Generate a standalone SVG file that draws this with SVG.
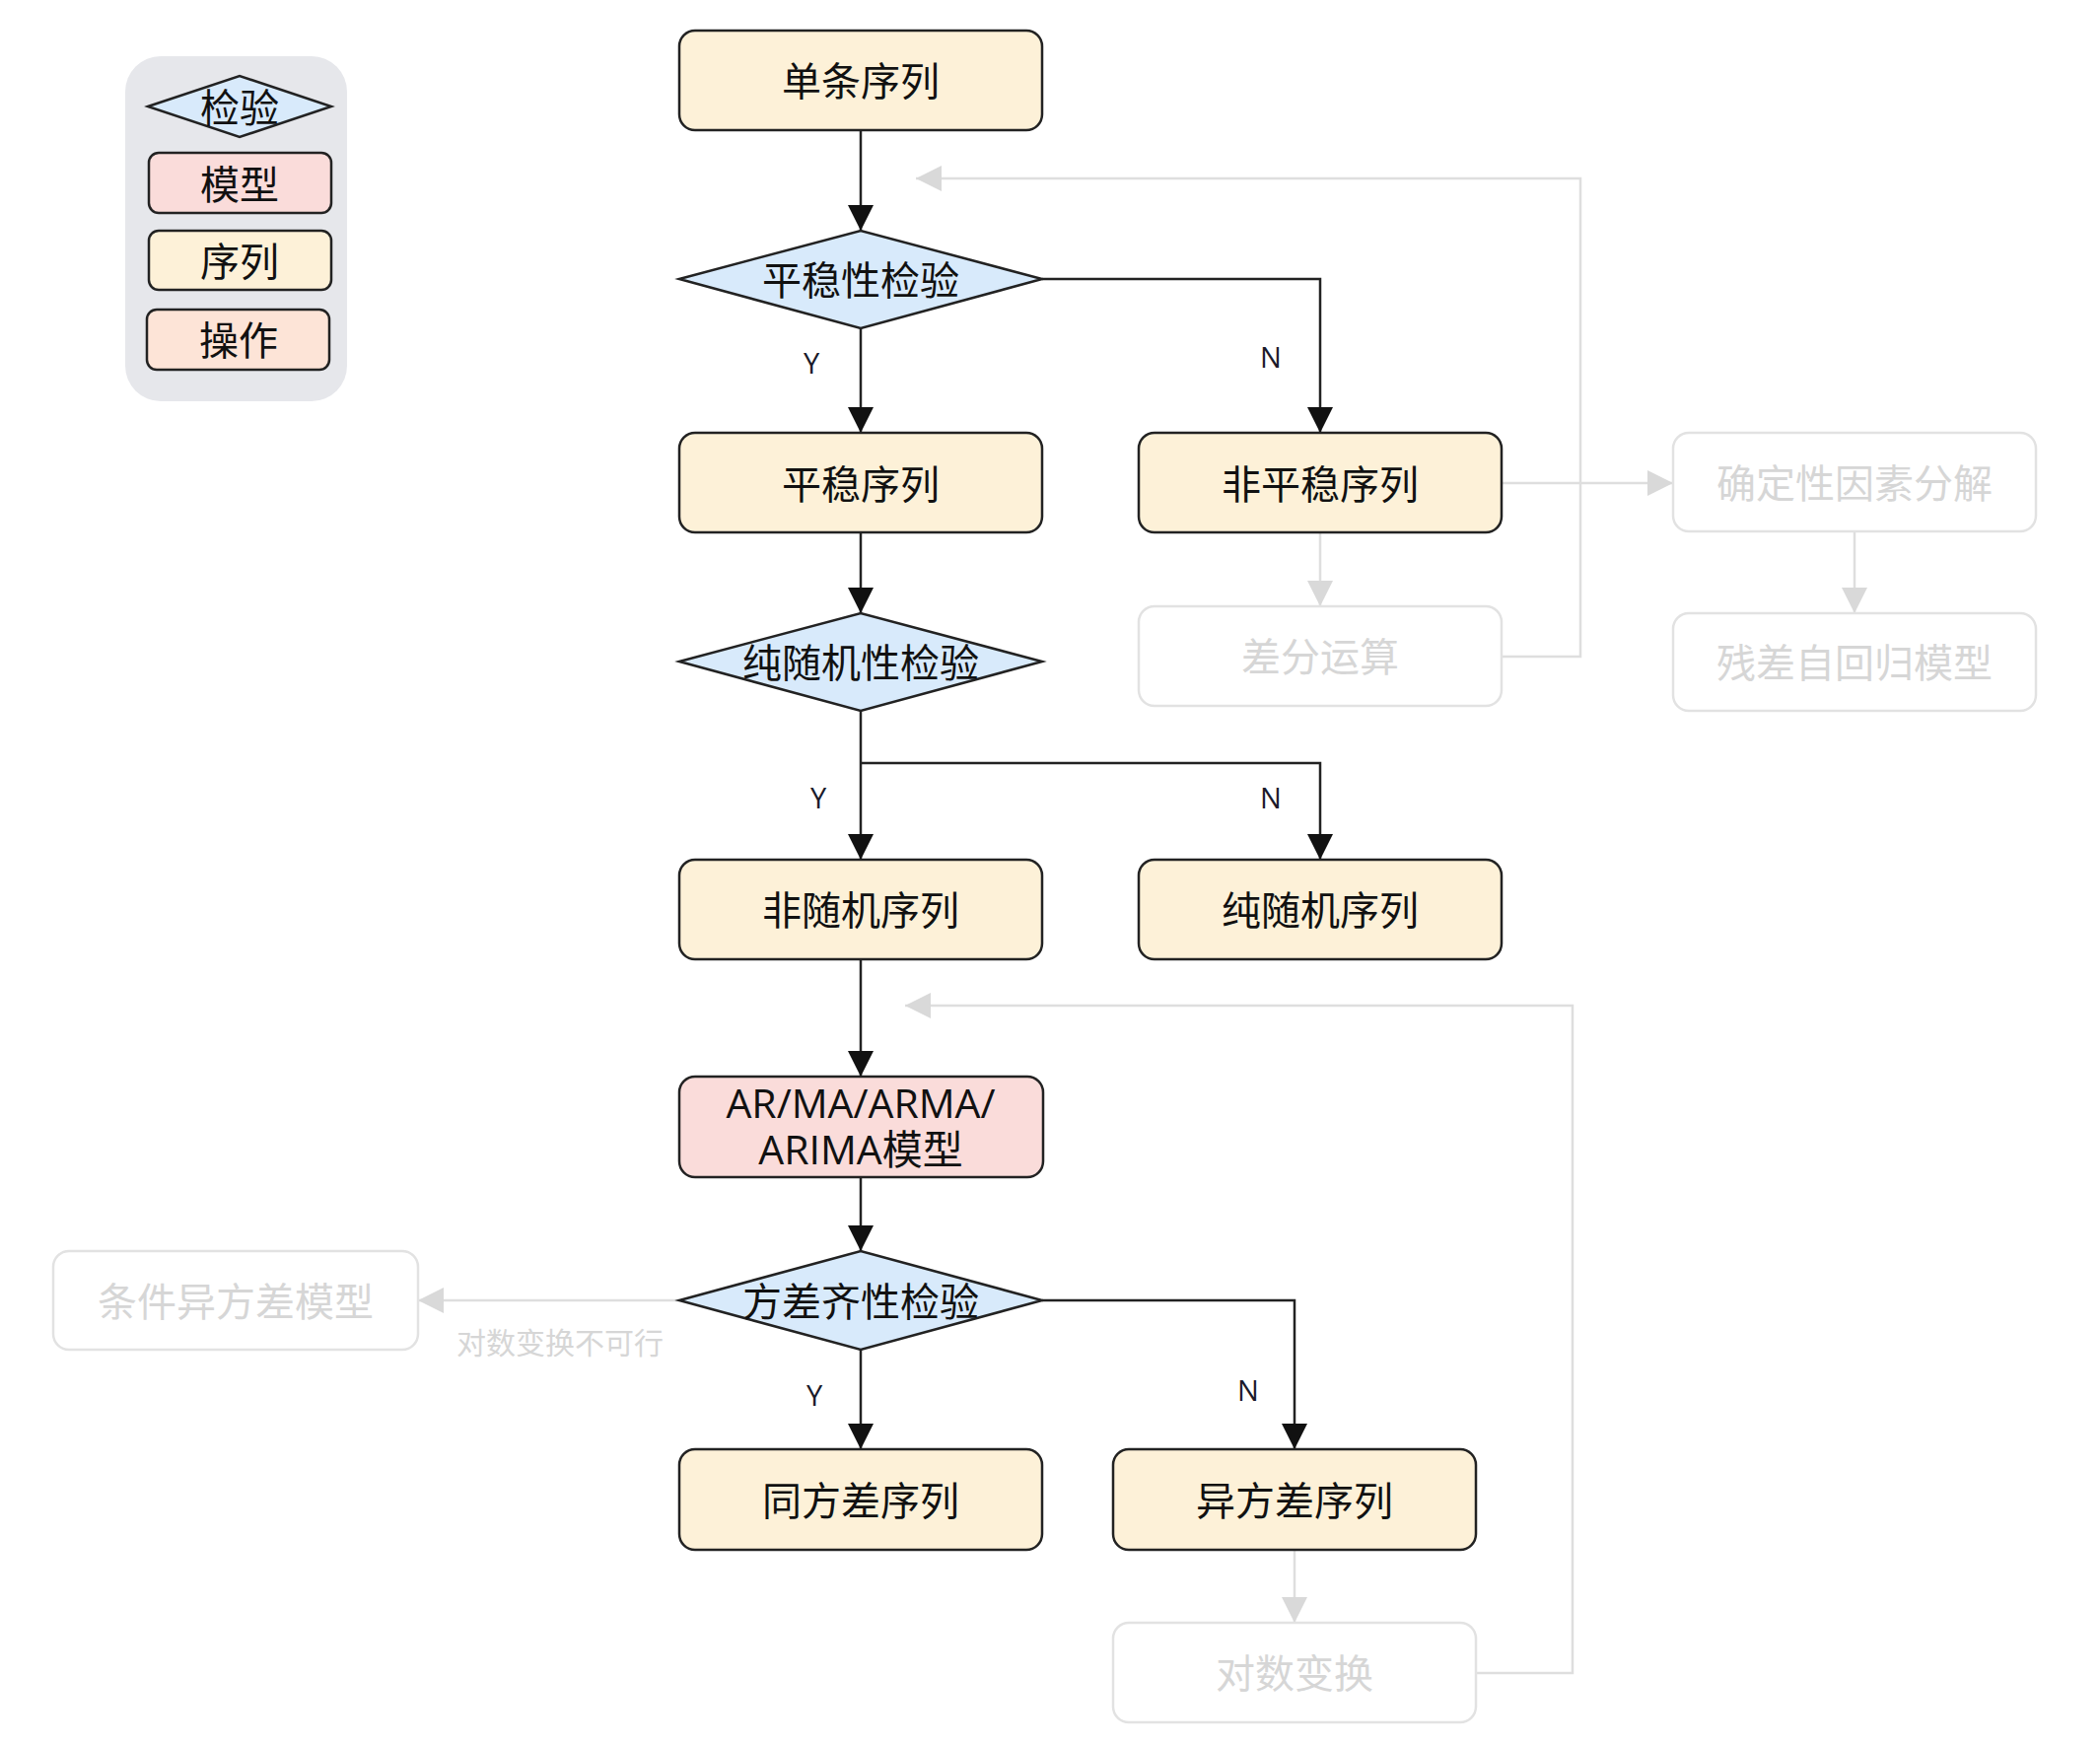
<svg xmlns="http://www.w3.org/2000/svg" width="2130" height="1770" viewBox="0 0 2130 1770">
<defs>
<marker id="ab" markerUnits="userSpaceOnUse" markerWidth="26" markerHeight="28" refX="26" refY="13" orient="auto"><path d="M0,0 L26,13 L0,26 Z" fill="#111"/></marker>
<marker id="ag" markerUnits="userSpaceOnUse" markerWidth="26" markerHeight="28" refX="26" refY="13" orient="auto"><path d="M0,0 L26,13 L0,26 Z" fill="#d9d9d9"/></marker>
</defs>
<style>
text{font-family:"Open Sans","Noto Sans CJK SC",sans-serif;text-anchor:middle;dominant-baseline:central}
.t{font-size:40px;fill:#111}
.tg{font-size:40px;fill:#d6d6d6}
.seq{fill:#fdf1d8;stroke:#222;stroke-width:2.5}
.mod{fill:#fadcda;stroke:#222;stroke-width:2.5}
.op{fill:#fde4d7;stroke:#222;stroke-width:2.5}
.dia{fill:#d8eafb;stroke:#222;stroke-width:2.5}
.gb{fill:#fff;stroke:#e2e2e2;stroke-width:2.5}
.cb{fill:none;stroke:#222;stroke-width:2.5}
.cg{fill:none;stroke:#dedede;stroke-width:2.5}
.yn{font-size:29px;fill:#1a1a2a}
</style>
<g id="legend">
<rect x="127" y="57" width="225" height="350" rx="36" fill="#e6e7eb"/>
<polygon class="dia" points="150,108 243,77 336,108 243,139"/>
<text class="t" x="243" y="108">检验</text>
<rect class="mod" x="151" y="155" width="185" height="61" rx="10"/>
<text class="t" x="243" y="186">模型</text>
<rect class="seq" x="151" y="234" width="185" height="60" rx="10"/>
<text class="t" x="243" y="264">序列</text>
<rect class="op" x="149" y="314" width="185" height="61" rx="10"/>
<text class="t" x="242" y="344">操作</text>
</g>
<g id="connectors">
<path class="cb" d="M873,132 V234" marker-end="url(#ab)"/>
<path class="cb" d="M873,333 V439" marker-end="url(#ab)"/>
<path class="cb" d="M1057,283 H1339 V439" marker-end="url(#ab)"/>
<path class="cb" d="M873,540 V622" marker-end="url(#ab)"/>
<path class="cb" d="M873,721 V872" marker-end="url(#ab)"/>
<path class="cb" d="M873,774 H1339 V872" marker-end="url(#ab)"/>
<path class="cb" d="M873,973 V1092" marker-end="url(#ab)"/>
<path class="cb" d="M873,1194 V1269" marker-end="url(#ab)"/>
<path class="cb" d="M873,1369 V1470" marker-end="url(#ab)"/>
<path class="cb" d="M1057,1319 H1313 V1470" marker-end="url(#ab)"/>
<path class="cg" d="M1523,490 H1697" marker-end="url(#ag)"/>
<path class="cg" d="M1523,666 H1603 V181 H929" marker-end="url(#ag)"/>
<path class="cg" d="M1339,540 V615" marker-end="url(#ag)"/>
<path class="cg" d="M1881,539 V622" marker-end="url(#ag)"/>
<path class="cg" d="M1313,1572 V1646" marker-end="url(#ag)"/>
<path class="cg" d="M1497,1697 H1595 V1020 H918" marker-end="url(#ag)"/>
<path class="cg" d="M689,1319 H424" marker-end="url(#ag)"/>
<text class="yn" x="823" y="367">Y</text>
<text class="yn" x="1289" y="361">N</text>
<text class="yn" x="830" y="808">Y</text>
<text class="yn" x="1289" y="808">N</text>
<text class="yn" x="826" y="1414">Y</text>
<text class="yn" x="1266" y="1409">N</text>
<text x="568" y="1361" style="font-size:30px;fill:#d6d6d6">对数变换不可行</text>
</g>
<g id="n1"><rect class="seq" x="689" y="31" width="368" height="101" rx="16"/><text class="t" x="873" y="81">单条序列</text></g>
<g id="n2"><polygon class="dia" points="689,283 873,234 1057,283 873,333"/><text class="t" x="873" y="283">平稳性检验</text></g>
<g id="n3"><rect class="seq" x="689" y="439" width="368" height="101" rx="16"/><text class="t" x="873" y="490">平稳序列</text></g>
<g id="n4"><rect class="seq" x="1155" y="439" width="368" height="101" rx="16"/><text class="t" x="1339" y="490">非平稳序列</text></g>
<g id="n5"><rect class="gb" x="1697" y="439" width="368" height="100" rx="16"/><text class="tg" x="1881" y="489">确定性因素分解</text></g>
<g id="n6"><rect class="gb" x="1155" y="615" width="368" height="101" rx="16"/><text class="tg" x="1339" y="665">差分运算</text></g>
<g id="n7"><rect class="gb" x="1697" y="622" width="368" height="99" rx="16"/><text class="tg" x="1881" y="671">残差自回归模型</text></g>
<g id="n8"><polygon class="dia" points="689,671 873,622 1057,671 873,721"/><text class="t" x="873" y="671">纯随机性检验</text></g>
<g id="n9"><rect class="seq" x="689" y="872" width="368" height="101" rx="16"/><text class="t" x="873" y="922">非随机序列</text></g>
<g id="n10"><rect class="seq" x="1155" y="872" width="368" height="101" rx="16"/><text class="t" x="1339" y="922">纯随机序列</text></g>
<g id="n11"><rect class="mod" x="689" y="1092" width="369" height="102" rx="16"/><text class="t" x="873" y="1118" style="font-size:41px">AR/MA/ARMA/<tspan x="873" dy="47">ARIMA模型</tspan></text></g>
<g id="n12"><polygon class="dia" points="689,1319 873,1269 1057,1319 873,1369"/><text class="t" x="873" y="1319">方差齐性检验</text></g>
<g id="n13"><rect class="gb" x="54" y="1269" width="370" height="100" rx="16"/><text class="tg" x="239" y="1319">条件异方差模型</text></g>
<g id="n14"><rect class="seq" x="689" y="1470" width="368" height="102" rx="16"/><text class="t" x="873" y="1521">同方差序列</text></g>
<g id="n15"><rect class="seq" x="1129" y="1470" width="368" height="102" rx="16"/><text class="t" x="1313" y="1521">异方差序列</text></g>
<g id="n16"><rect class="gb" x="1129" y="1646" width="368" height="101" rx="16"/><text class="tg" x="1313" y="1696">对数变换</text></g>
</svg>
